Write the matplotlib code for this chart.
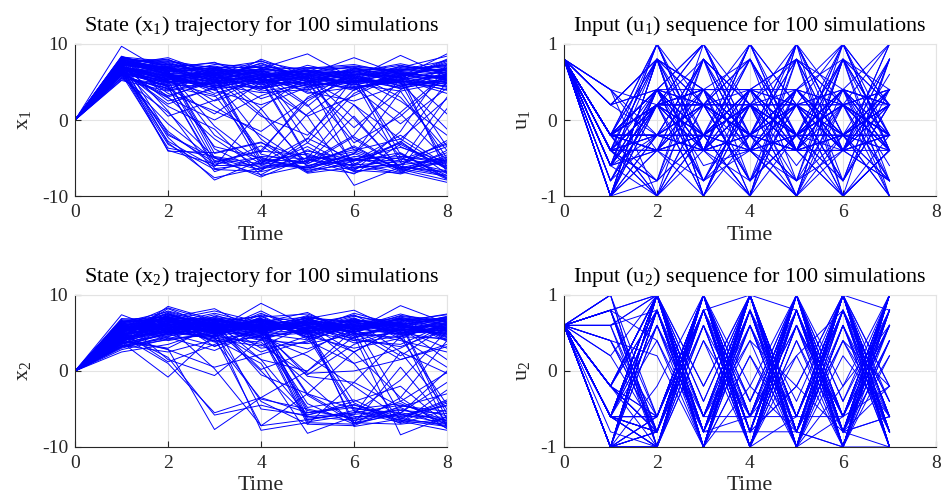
import numpy as np
import matplotlib.pyplot as plt

# state trajectories, values at t = 1..8 (every run starts at 0)
X_START = 0.0
X1_RUNS = [
    "7.2 6.5 5.8 6.4 5.1 5.9 6.3 5.4", "8.1 7.4 6.2 7.0 5.5 4.8 6.6 7.2",
    "6.8 5.2 6.9 5.6 6.1 5.3 4.9 6.0", "7.5 8.0 5.4 6.3 4.7 6.8 5.5 4.3",
    "9.7 6.1 5.0 5.8 6.6 5.2 6.0 5.7", "6.3 4.5 5.7 7.2 5.9 4.6 5.8 6.9",
    "7.9 6.8 7.6 5.1 6.2 7.0 4.8 5.2", "5.2 3.8 4.9 6.1 4.4 5.6 6.9 8.4",
    "7.0 5.9 4.2 5.5 6.9 5.0 5.4 3.9", "8.3 7.7 6.5 4.9 5.8 6.3 7.4 6.2",
    "6.6 4.9 6.0 7.8 5.2 4.1 5.3 7.7", "7.4 6.2 3.5 5.2 6.4 5.8 4.5 5.1",
    "6.0 5.5 6.7 4.3 5.0 6.6 5.9 6.8", "7.7 7.0 5.2 6.8 8.7 5.4 6.2 4.6",
    "5.8 4.1 5.9 3.8 4.6 5.1 7.1 6.4", "8.0 6.6 7.1 6.0 5.6 4.3 5.0 5.9",
    "6.9 5.7 4.5 5.9 6.7 7.1 6.5 7.0", "7.3 8.2 6.0 5.4 4.2 5.7 4.1 5.5",
    "6.4 5.0 5.5 7.5 5.4 6.0 5.7 8.7", "7.8 6.4 6.8 4.6 6.0 8.2 6.0 4.9",
    "5.5 4.7 5.3 6.5 5.7 4.9 5.2 6.6", "7.1 5.6 4.0 5.0 4.9 5.5 8.5 5.8",
    "8.2 7.2 6.4 6.6 6.3 6.2 5.6 7.5", "6.2 3.2 5.0 4.1 5.3 3.9 6.4 5.3",
    "7.6 6.0 7.3 7.0 5.0 6.9 4.4 6.1", "6.7 4.4 3.1 5.7 6.5 4.4 5.1 4.0",
    "7.9 7.9 6.1 6.2 4.6 5.0 6.8 7.1", "5.9 5.3 4.8 8.0 5.8 6.5 5.5 5.6",
    "7.2 6.9 5.6 5.3 7.2 5.9 7.0 6.5", "6.5 2.1 4.3 4.4 5.5 4.7 3.8 5.0",
    "8.4 6.3 6.9 6.9 6.8 7.3 6.1 6.7", "7.0 5.1 4.6 3.6 4.0 5.2 4.7 4.5",
    "6.1 2.9 0.0 3.2 5.1 6.4 5.2 7.9", "7.7 3.5 1.2 -1.5 2.8 5.5 6.7 6.0",
    "6.8 0.5 2.6 5.6 3.7 2.5 4.6 5.4", "7.5 6.0 -2.0 -5.8 -4.1 -5.2 -3.6 -5.5",
    "6.9 5.8 4.5 -6.0 -3.5 -6.8 -5.9 -2.7", "7.3 -2.3 -7.9 -5.3 -6.2 -3.4 -6.7 -5.2",
    "8.0 -1.8 -5.6 -4.1 -4.6 -6.0 -2.8 -7.1", "6.4 -3.2 -6.5 -6.8 -5.3 -4.2 -6.3 -4.9",
    "7.1 -4.1 -4.3 -2.9 -6.8 -4.8 -5.1 -6.0", "5.8 -0.5 -5.3 -7.2 -3.9 -6.5 -4.4 -7.7",
    "7.8 1.2 -6.8 -4.8 -5.1 -7.1 -3.2 -6.4", "6.6 5.5 6.2 0.8 -5.7 -3.6 -6.6 -4.3",
    "7.4 6.9 5.3 -2.5 -6.9 -5.4 -4.3 -7.6", "8.2 7.1 5.0 6.1 -3.0 -6.3 -5.8 -3.5",
    "6.2 4.8 6.6 5.4 0.5 -8.6 -6.2 -6.9", "7.6 6.1 4.2 5.7 6.5 -4.0 -2.5 -6.3",
    "6.9 5.4 5.9 4.8 5.8 0.2 -6.4 -5.6", "7.2 6.7 6.8 6.0 5.1 5.8 -4.5 -7.3",
    "5.9 3.9 5.1 6.5 4.7 6.2 5.0 -6.1", "8.1 7.5 5.7 4.2 6.6 5.0 0.8 -5.3",
    "7.0 4.6 -3.5 -5.0 -6.5 -4.4 -6.8 -8.2", "6.5 1.8 -1.2 -7.3 -6.0 -5.3 -3.0 -6.5",
    "7.7 6.3 -0.8 -5.5 -4.4 -6.6 -7.0 -4.0", "6.3 5.0 3.3 -4.5 -5.8 -2.2 -6.1 -6.8",
    "7.9 6.8 4.7 5.5 -4.8 -5.2 -4.8 -5.4", "6.7 5.6 6.4 1.5 -6.2 -7.0 -5.2 -3.2",
    "7.4 7.3 5.5 6.4 2.0 -5.7 -6.9 -4.6", "8.3 6.0 4.9 5.1 5.5 -6.4 -4.9 -7.8",
    "7.1 5.2 -5.5 -4.0 2.5 6.0 5.8 6.3", "6.6 -2.8 -6.2 1.5 5.8 4.9 6.5 7.3",
    "7.5 6.4 -5.0 -6.6 -3.0 3.5 6.2 5.5", "6.0 -3.7 -4.8 -5.8 0.8 5.2 4.3 6.8",
    "7.8 5.9 6.0 -5.2 -5.5 -2.0 5.5 8.0", "6.8 4.3 -6.0 -5.9 -6.3 -4.4 1.0 6.2",
    "7.3 7.0 4.4 -4.3 3.0 6.4 5.1 4.8", "5.5 1.0 -4.9 -6.2 -5.0 2.0 -4.8 -5.7",
    "7.0 5.7 6.3 5.2 -5.0 -6.7 -1.5 7.4", "8.0 6.5 -3.8 -6.7 -2.5 5.6 -3.5 -6.2",
    "6.4 -4.0 -5.8 -4.9 -6.6 -5.8 -3.0 5.0", "7.6 5.3 5.8 -5.6 -6.3 -5.0 -6.4 1.5",
    "6.9 6.2 1.8 -2.0 -6.0 -4.5 3.8 -5.0", "7.2 4.0 6.7 6.3 -1.5 -5.9 -5.5 3.0",
    "8.1 3.0 -2.5 -6.4 -5.6 0.5 -6.5 -7.9", "6.1 -1.5 -6.0 -3.4 -7.0 -6.2 -5.9 -5.1",
    "7.5 -3.0 -7.6 -6.3 -5.4 -3.9 -6.4 -7.4", "6.7 -2.0 -5.0 -7.5 -4.9 -5.4 -2.0 -6.0",
    "7.9 6.6 -4.4 -3.0 -5.2 -6.0 -7.1 -5.3", "6.3 4.4 -6.4 -5.7 -2.4 -5.3 -5.4 -6.7",
    "7.0 6.0 2.5 4.5 0.5 3.2 6.0 5.3", "6.5 5.4 6.3 2.8 4.8 -1.0 4.0 6.4",
    "7.8 7.6 5.9 6.7 3.5 4.3 -0.5 4.2", "5.6 4.2 0.8 5.0 6.2 5.7 2.5 -2.0",
    "7.3 6.5 6.6 5.8 1.8 6.8 6.3 0.8", "6.2 3.0 5.4 0.5 -2.0 4.0 5.6 -3.5",
    "8.3 7.0 7.5 6.4 5.3 2.0 -2.5 2.8", "6.9 5.8 3.9 2.0 4.3 -3.0 0.5 5.9",
    "7.1 2.5 4.1 6.8 6.0 5.5 4.9 -1.2", "6.0 4.9 5.6 5.3 5.6 6.1 3.0 -4.0",
    "7.4 6.1 6.1 4.0 6.1 4.6 5.9 -7.0", "7.7 6.7 5.1 5.9 4.4 5.3 -5.6 -3.0",
    "6.4 5.1 4.7 6.1 5.9 -2.5 -6.1 -7.3", "7.2 7.8 6.8 7.7 6.4 7.0 6.4 6.6",
    "6.8 6.4 5.2 4.7 5.0 4.2 5.7 4.4", "7.6 5.0 6.5 6.6 6.9 6.7 6.6 7.8",
    "5.3 4.6 4.4 5.4 3.9 5.9 4.2 5.2", "8.0 7.3 7.0 5.5 6.5 6.3 7.2 6.1",
    "6.6 5.9 5.8 7.4 5.4 5.1 5.3 3.5", "7.5 6.8 6.2 6.7 6.0 6.6 6.1 5.7",
]
X2_RUNS = [
    "5.0 6.2 5.5 6.8 5.3 6.0 5.4 6.1", "4.5 7.3 6.1 5.2 6.4 5.5 6.8 5.7",
    "5.8 5.6 6.9 6.0 5.0 6.7 5.9 4.9", "3.9 6.8 5.0 7.4 6.2 5.1 7.0 6.5",
    "7.4 5.1 6.4 5.5 7.0 6.3 5.5 5.3", "4.2 8.5 6.7 5.8 5.6 7.2 6.2 6.8",
    "6.1 6.0 5.3 8.9 5.9 5.6 4.8 5.5", "3.5 4.8 7.2 6.3 4.8 6.5 6.6 7.4",
    "5.5 7.0 8.2 5.0 6.7 4.9 5.7 5.9", "4.8 5.7 5.9 6.6 5.4 7.6 6.0 4.6",
    "6.6 6.5 4.8 7.1 7.5 5.3 8.6 6.3", "2.8 4.2 6.2 5.6 6.1 6.1 5.1 5.0",
    "5.2 7.7 5.6 4.8 5.2 5.8 6.4 7.0", "4.0 6.3 7.6 6.1 6.9 8.0 5.2 5.6",
    "6.3 5.4 6.0 5.3 5.7 5.2 6.9 6.0", "3.2 5.0 4.4 6.9 4.5 6.6 5.8 5.2",
    "5.9 6.9 6.6 5.9 6.3 5.5 7.3 6.6", "4.4 8.2 5.8 4.3 5.5 7.0 4.5 4.3",
    "5.6 6.1 7.0 6.4 7.7 4.6 6.1 7.1", "4.9 5.3 5.1 7.6 5.1 6.9 5.0 5.8",
    "3.0 4.5 6.5 5.1 6.6 5.9 6.7 3.9", "6.8 7.1 5.4 6.7 4.4 6.4 5.6 6.2",
    "5.3 5.9 7.4 5.4 6.0 5.0 7.1 5.4", "4.1 6.6 4.9 6.2 5.8 7.4 4.2 6.9",
    "6.0 4.7 6.3 4.6 7.2 5.4 6.3 4.7", "3.7 7.5 5.7 6.5 5.3 6.2 5.3 6.4",
    "5.4 5.5 6.8 5.7 6.5 4.4 6.5 7.5", "4.6 6.4 5.2 7.9 4.9 6.8 5.9 5.1",
    "6.4 7.8 6.0 5.0 6.8 5.7 4.9 6.7", "2.5 3.5 5.5 4.0 3.6 4.8 5.5 3.0",
    "5.1 6.7 7.9 6.4 5.5 6.1 6.8 5.3", "4.3 5.2 4.6 5.5 6.1 3.7 4.6 6.0",
    "5.7 8.3 6.5 7.2 4.2 5.8 6.1 4.4", "3.4 2.5 4.1 3.3 5.9 4.2 3.2 5.5",
    "4.7 6.0 3.8 4.5 2.9 5.3 4.0 2.5", "6.2 4.0 5.0 6.0 5.0 2.5 5.8 7.2",
    "5.0 7.2 3.2 5.8 6.3 5.6 2.0 5.9", "3.6 5.8 6.6 3.0 3.8 6.4 5.7 1.5",
    "4.9 6.5 5.9 6.5 7.1 4.0 3.5 6.3", "5.6 4.4 2.7 5.4 5.7 6.6 6.9 4.1",
    "4.0 3.0 6.0 2.5 4.6 3.0 4.3 0.5", "6.5 6.8 4.3 4.9 6.4 5.1 1.5 3.2",
    "3.3 5.0 5.4 1.5 0.0 4.5 5.0 5.7", "5.9 7.4 6.2 0.2 2.5 5.9 6.0 7.0",
    "4.5 2.8 0.5 2.2 4.0 1.0 3.0 6.1", "5.2 1.2 3.5 5.5 6.0 6.7 2.5 -0.3",
    "3.8 -0.8 4.8 6.8 5.2 4.0 5.4 5.0", "6.7 1.5 -0.6 4.2 6.8 5.5 6.2 4.5",
    "4.2 5.5 4.7 3.5 -0.5 3.5 5.5 6.6", "5.3 6.6 6.1 5.2 -0.3 0.0 1.5 3.5",
    "4.8 1.8 -5.8 -4.5 -6.0 -6.5 -5.0 -6.8", "3.9 2.9 -7.7 -3.5 -5.5 -4.8 -6.2 -7.2",
    "5.4 6.0 4.5 -7.2 -6.4 -5.5 -4.5 -5.9", "6.0 7.0 5.6 -7.8 -6.8 -7.0 -5.5 -6.5",
    "4.4 5.6 4.0 -3.7 -5.0 -6.3 -4.8 -7.5", "5.7 6.3 6.4 -5.0 -5.8 -4.4 -6.7 -4.2",
    "3.5 5.3 4.2 1.0 -8.2 -6.0 -5.9 -6.1", "6.3 6.1 5.8 6.2 -6.5 -5.2 -6.4 -7.0",
    "4.6 4.9 3.3 4.7 -7.0 -7.2 -4.6 -5.3", "5.0 7.6 5.3 5.6 -5.5 -4.5 -6.0 -4.5",
    "4.1 5.4 6.9 5.9 -3.2 -6.8 -7.0 -6.3", "6.6 6.9 5.1 7.0 -6.2 -5.7 -5.2 -5.6",
    "3.1 4.6 5.6 4.4 -4.8 -3.8 -6.6 -7.8", "5.5 6.2 4.9 6.1 5.5 -6.8 -5.7 -6.9",
    "4.7 7.1 6.3 5.3 6.2 -7.3 -6.3 -4.0", "5.8 5.7 5.2 6.6 4.9 -5.0 -4.3 -6.6",
    "4.3 6.7 6.7 5.0 5.4 -4.2 -6.9 -5.1", "6.1 5.8 4.6 6.3 6.0 1.0 -6.5 -7.3",
    "3.8 6.4 5.9 4.1 5.8 4.7 -8.4 -6.0", "5.1 7.3 6.0 5.7 6.5 5.2 -5.8 -4.6",
    "4.9 5.9 5.5 6.4 5.3 6.2 -4.0 -7.1", "6.4 6.5 6.8 5.5 6.9 5.4 6.3 -6.4",
    "4.0 5.1 4.5 6.7 4.7 6.0 5.2 -7.4", "5.6 6.8 6.1 5.8 6.4 4.9 4.4 -4.4",
    "3.6 5.0 5.8 4.9 4.1 5.9 6.5 -5.7", "4.6 1.0 -5.5 -3.5 0.0 5.5 6.4 5.5",
    "5.9 5.8 0.3 -7.2 -3.0 2.5 5.8 6.8", "4.2 6.0 5.0 -4.0 -7.0 -1.5 4.5 6.2",
    "5.3 6.9 5.7 0.0 -6.0 -5.5 -1.2 5.3", "3.7 4.8 6.2 5.1 -4.3 -7.0 -3.5 4.0",
    "6.2 7.2 4.8 6.0 -3.0 -6.5 -5.6 0.0", "4.4 5.2 6.5 1.5 -5.8 -4.0 -2.0 -7.0",
    "5.1 6.3 3.9 5.4 -0.7 -1.5 -4.7 -3.0", "4.8 5.6 6.4 -0.5 -3.0 -5.0 -5.5 -1.5",
    "6.5 6.6 5.3 4.5 2.0 -2.0 -6.2 -3.8", "3.3 4.3 4.7 6.3 -5.2 -6.2 -4.0 -0.2",
    "5.7 7.0 6.8 5.1 -6.7 -5.8 2.5 -5.0", "4.0 5.5 5.4 6.8 4.5 -5.3 -6.8 -2.5",
    "5.2 6.7 4.3 3.8 -1.5 -6.9 0.5 -6.8", "6.0 5.0 6.6 5.6 6.1 2.5 -3.5 -7.6",
    "4.5 6.2 5.7 6.9 5.6 6.3 6.0 5.4", "5.5 7.9 6.3 5.6 7.3 5.6 7.2 6.4",
    "3.2 4.1 5.1 6.0 5.1 6.9 4.7 5.8", "6.9 6.4 7.1 5.2 6.6 5.1 6.6 7.0",
    "4.1 5.7 6.0 6.6 6.2 7.3 5.8 4.8", "5.4 7.1 5.5 4.6 5.0 5.4 6.9 6.2",
    "4.7 6.0 6.7 5.9 7.0 6.5 5.4 5.6", "5.9 6.8 4.9 6.2 5.7 4.3 6.1 6.9",
    "3.9 5.3 6.2 7.3 4.4 6.0 5.0 4.1", "6.3 7.5 5.8 5.5 6.7 5.7 7.5 6.0",
]

# input sequences at t = 1..7, in steps of 0.2
U1_START = 0.8
U2_START = 0.6
U_STEP = 0.2
U1_RUNS = [
    "-1 2 -2 1 -1 1 -1", "-2 4 -1 2 -2 4 1", "-3 1 -5 1 -1 2 -2", "-5 -1 4 -2 5 -1 1",
    "-1 -2 2 -1 1 -5 -2", "1 4 -2 5 -1 2 -4", "-2 -5 1 -1 4 -2 5", "-3 2 -1 -5 2 1 -1",
    "-5 4 -4 1 -2 5 -2", "-1 1 2 -2 -5 -1 1", "-2 -1 4 -4 1 -2 3", "2 -2 -1 2 -1 4 -1",
    "-1 5 -2 1 -3 1 -5", "-3 1 1 -1 5 -2 2", "-5 -2 -2 4 -1 -4 1", "-1 2 -3 -2 2 1 -2",
    "-2 -4 5 -1 -2 2 -1", "-4 1 -1 2 4 -5 4", "-1 -1 2 -5 -1 2 -3", "1 4 -5 1 -2 -1 1",
    "-2 -2 1 -1 1 5 -2", "-3 2 -2 4 -4 -1 2", "-5 1 -1 -2 2 -2 -4", "-1 -5 4 1 -1 1 -1",
    "-2 2 -4 2 -5 4 1", "-1 1 1 -1 2 -1 -5", "-3 -2 -1 5 -2 2 -2", "-5 4 2 -2 1 -4 4",
    "-1 -1 -2 1 -1 1 -1", "1 2 1 -4 4 -2 2", "-2 1 -5 2 -1 -1 1", "-1 -4 2 -1 -2 5 -2",
    "-3 5 -1 1 1 -2 -1", "-5 -2 4 -2 -5 1 2", "-1 2 -2 -1 2 -1 -4", "-2 -1 1 4 -1 2 1",
    "-4 1 -4 -1 1 -5 -2", "-1 4 1 1 -2 4 -1", "-2 -2 -1 -5 5 -1 4", "-3 1 2 2 -1 1 -2",
    "2 -5 -2 -1 -4 -2 1", "-1 2 5 -2 1 2 -5", "-5 -1 -1 1 -2 -1 2", "-2 1 2 -4 2 4 -1",
    "-1 -2 -5 2 -1 -4 1", "-3 4 1 -1 4 1 -2", "-1 1 -2 5 -2 -2 -1", "-2 -4 4 -2 -5 2 5",
    "-5 2 -1 1 1 -1 -2", "1 -1 1 -1 -1 5 1", "-1 5 -2 -5 2 -2 -4", "-2 1 -1 2 -2 1 2",
    "-3 -2 2 -1 5 -5 -1", "-1 2 -4 1 -1 2 1", "-4 -1 1 4 -2 -1 -2", "-2 4 -2 -2 1 -4 4",
    "-1 -5 -1 1 -4 1 -1", "-5 1 5 -1 2 -2 2", "-2 -2 -2 2 -1 4 -5", "-1 2 1 -4 1 -1 1",
    "-3 1 -1 1 -2 2 -2", "2 -1 4 -1 -5 -2 -1", "-1 4 -5 2 2 5 1", "-2 -2 1 -2 -1 -1 -4",
    "-5 2 -2 5 1 1 2", "-1 1 2 -1 -2 -2 -1", "-2 -4 -1 1 4 2 1", "-3 5 1 -4 -1 -5 -2",
    "-1 -1 -2 2 1 1 5", "1 2 -4 -2 -2 -1 -1", "-2 1 1 1 -5 4 -2", "-1 -2 -1 -1 2 -2 1",
    "-5 4 2 4 -1 1 -4", "-2 -1 -2 -2 1 -4 2", "-4 1 5 1 -2 2 -1", "-1 2 -1 -5 5 -1 1",
    "-3 -5 1 2 -1 1 -2", "-1 1 -2 -1 -4 5 -1", "-2 -2 4 1 2 -2 4", "-5 2 -1 -2 -1 -1 -5",
    "-1 -1 1 5 1 2 1", "1 4 -5 -1 -2 -5 -2", "-2 1 2 2 4 1 -1", "-1 -2 -2 -4 -1 -2 2",
    "-3 2 1 1 -5 4 -4", "-5 -4 -1 -2 2 -1 1", "-1 1 4 1 -1 1 -1", "-2 5 -2 -1 1 -2 5",
    "-1 -1 -1 2 -2 2 -2", "-4 2 2 -5 4 -4 1", "-2 -2 -4 1 -1 1 -1", "-1 1 1 -1 2 -1 2",
    "-3 -1 -1 4 -2 -5 -2", "-5 4 2 -2 -1 2 1", "-1 -2 -2 1 5 1 -4", "2 1 1 -1 -2 -2 4",
    "-2 -5 -1 2 1 -1 -1", "-1 2 5 -2 -4 4 2", "-3 1 -2 1 1 -2 -2", "-1 -1 1 -4 -1 1 1",
]
U2_RUNS = [
    "-5 5 -2 5 -5 4 -5", "-3 5 -3 4 -4 5 -3", "-5 -4 5 -5 3 -3 5", "5 -3 5 -4 5 -2 4",
    "-3 -3 4 -2 5 -4 -3", "4 -4 4 -5 3 -3 5", "-1 5 -1 5 -4 2 -1", "-5 5 -3 -3 -3 4 -5",
    "-3 -5 5 -2 4 -3 3", "3 5 -4 -3 5 -4 2", "-5 -3 5 -4 -1 5 -4", "-3 4 -4 5 -5 2 -4",
    "4 -5 2 -3 5 -5 1", "-1 5 -2 5 -3 -3 4", "-5 -4 5 -5 1 4 -3", "-3 5 -3 2 -5 5 -5",
    "2 -3 4 -5 4 -4 5", "-5 5 -4 -4 5 -3 -1", "-3 -5 4 5 -5 3 -4", "-1 4 -5 5 -4 -5 5",
    "5 -5 3 -3 5 -4 3", "-5 3 -4 5 -4 5 -5", "-3 -3 5 -3 1 -5 4", "4 5 -5 4 -5 3 -3",
    "-3 -5 5 -4 -4 -5 -5", "-5 5 -5 4 -2 5 5", "-1 -4 5 -5 -3 5 -4", "3 5 -5 1 -5 -1 5",
    "-5 -5 4 -4 5 -5 2", "-3 5 -5 5 4 -4 -5", "-3 -3 5 -5 5 5 -1", "1 5 -3 5 -5 5 -4",
    "-5 -4 5 -1 5 -5 5", "-3 4 -5 3 -3 5 -3", "-1 -5 5 -5 2 -4 4", "4 2 -4 4 -5 5 -5",
    "-5 -3 5 -5 4 -5 5", "-3 5 -5 5 -5 3 -5", "-4 -5 3 -5 5 -2 5", "-1 5 -5 1 -4 5 -3",
    "-5 -1 5 -4 5 -4 5", "-3 3 -5 5 -3 5 -5", "3 -5 5 -5 5 -5 4", "-3 5 -1 5 -4 5 -5",
    "-5 -4 5 -5 5 -1 3", "-1 5 -5 3 -5 5 -5", "4 -5 5 -5 2 -5 5", "-3 4 -5 5 -5 4 -4",
    "-5 -5 4 -5 3 -5 5", "-3 5 -3 5 -5 5 -1", "-1 -3 5 -2 5 -5 5", "5 5 -5 4 -5 5 -5",
    "-5 -5 5 -4 4 -4 4", "-3 5 -5 5 -5 1 -3", "-3 -4 5 -3 5 -5 5", "2 1 -5 5 -5 5 -5",
    "-5 -5 5 -5 5 -4 3", "-1 5 -4 5 -3 5 -4", "-3 -5 2 -5 5 -3 5", "4 5 -5 5 -5 5 -5",
    "-5 -3 4 -3 3 -5 4", "-3 2 -5 -1 -4 4 -2", "-1 -4 3 -5 5 -3 4", "3 4 -3 5 -4 2 -3",
    "-5 4 -4 3 -5 -3 5", "-3 -4 5 -4 4 -4 1", "-3 5 -4 2 -1 5 -3", "4 -3 5 -3 3 -4 3",
    "-5 3 -3 5 -4 4 -4", "-1 -3 5 -4 4 -5 2", "-3 5 -4 3 -5 5 -4", "1 -4 4 -5 5 -3 5",
    "-5 4 -5 5 -3 4 -2", "-3 -4 4 -4 5 -4 -3", "-1 4 -4 4 -3 5 4", "4 -4 5 -3 5 -4 -1",
    "-5 5 -4 4 -4 5 -4", "-3 -3 5 -4 4 -3 3", "-3 3 -4 4 -5 4 -4", "2 -4 3 -5 5 -4 5",
    "-5 4 -5 5 -4 3 -5", "-1 -4 5 -3 4 -5 4", "-3 5 -3 3 -4 5 -3", "4 -4 4 -5 5 -4 2",
    "-5 5 -4 5 -3 5 -4", "-3 -4 4 -5 3 -3 5", "-1 5 -4 4 -5 3 -4", "5 -5 4 -4 5 -4 4",
    "-5 4 -5 4 -4 5 -3", "-3 -3 4 -4 5 -4 5", "-3 5 -4 5 -4 4 -4", "3 -4 5 -4 -1 -4 5",
    "-5 5 -3 4 -5 5 -4", "-1 -4 4 -5 4 -4 4", "-3 4 -4 5 -4 5 -2", "4 -5 5 -4 4 -5 3",
    "-5 4 -5 5 -3 4 -5", "-3 -4 5 -4 5 -4 3", "-1 5 -4 4 -4 5 -5", "2 -4 5 -5 4 -4 5",
]


def to_array(runs, start, scale=1.0):
    vals = np.array([[float(v) for v in r.split()] for r in runs]) * scale
    first = np.full((len(runs), 1), start)
    return np.hstack([first, vals])


x1 = to_array(X1_RUNS, X_START)
x2 = to_array(X2_RUNS, X_START)
u1 = to_array(U1_RUNS, U1_START, U_STEP)
u2 = to_array(U2_RUNS, U2_START, U_STEP)

plt.rcParams['font.family'] = ['Liberation Serif', 'DejaVu Serif']
plt.rcParams['mathtext.fontset'] = 'custom'
plt.rcParams['mathtext.rm'] = 'Liberation Serif'
plt.rcParams['mathtext.it'] = 'Liberation Serif'
plt.rcParams['axes.unicode_minus'] = False

fig = plt.figure(figsize=(9.46, 5.04), dpi=100)
W = 0.3932
H = 0.3016
positions = [
    [0.0793, 0.6111, W, H], [0.5962, 0.6111, W, H],
    [0.0793, 0.1131, W, H], [0.5962, 0.1131, W, H],
]
panels = [
    (x1, r'State (x$_{1}$) trajectory for 100 simulations', r'x$_{1}$', 10),
    (u1, r'Input (u$_{1}$) sequence for 100 simulations', r'u$_{1}$', 1),
    (x2, r'State (x$_{2}$) trajectory for 100 simulations', r'x$_{2}$', 10),
    (u2, r'Input (u$_{2}$) sequence for 100 simulations', r'u$_{2}$', 1),
]

dark = '#262626'
for pos, (data, title, ylab, lim) in zip(positions, panels):
    ax = fig.add_axes(pos)
    t = np.arange(data.shape[1])
    for row in data:
        ax.plot(t, row, color='#0000ff', lw=0.7)
    ax.set_xlim(0, 8)
    ax.set_ylim(-lim, lim)
    ax.set_xticks([0, 2, 4, 6, 8])
    ax.set_yticks([-lim, 0, lim])
    ax.grid(True, color='#e3e3e3', lw=0.8)
    ax.set_axisbelow(True)
    for s in ['top', 'right']:
        ax.spines[s].set_color('#e3e3e3')
    for s in ['left', 'bottom']:
        ax.spines[s].set_color(dark)
        ax.spines[s].set_linewidth(0.8)
    ax.tick_params(direction='in', length=4, colors=dark, labelsize=14)
    ax.tick_params(axis='x', pad=6)
    ax.tick_params(axis='y', pad=5)
    ax.set_title(title, fontsize=16, color='black', pad=9)
    ax.set_xlabel('Time', fontsize=16, color=dark, labelpad=3)
    ax.set_ylabel(ylab, fontsize=16, color=dark, labelpad=6)

fig.savefig('out.png', dpi=100)
